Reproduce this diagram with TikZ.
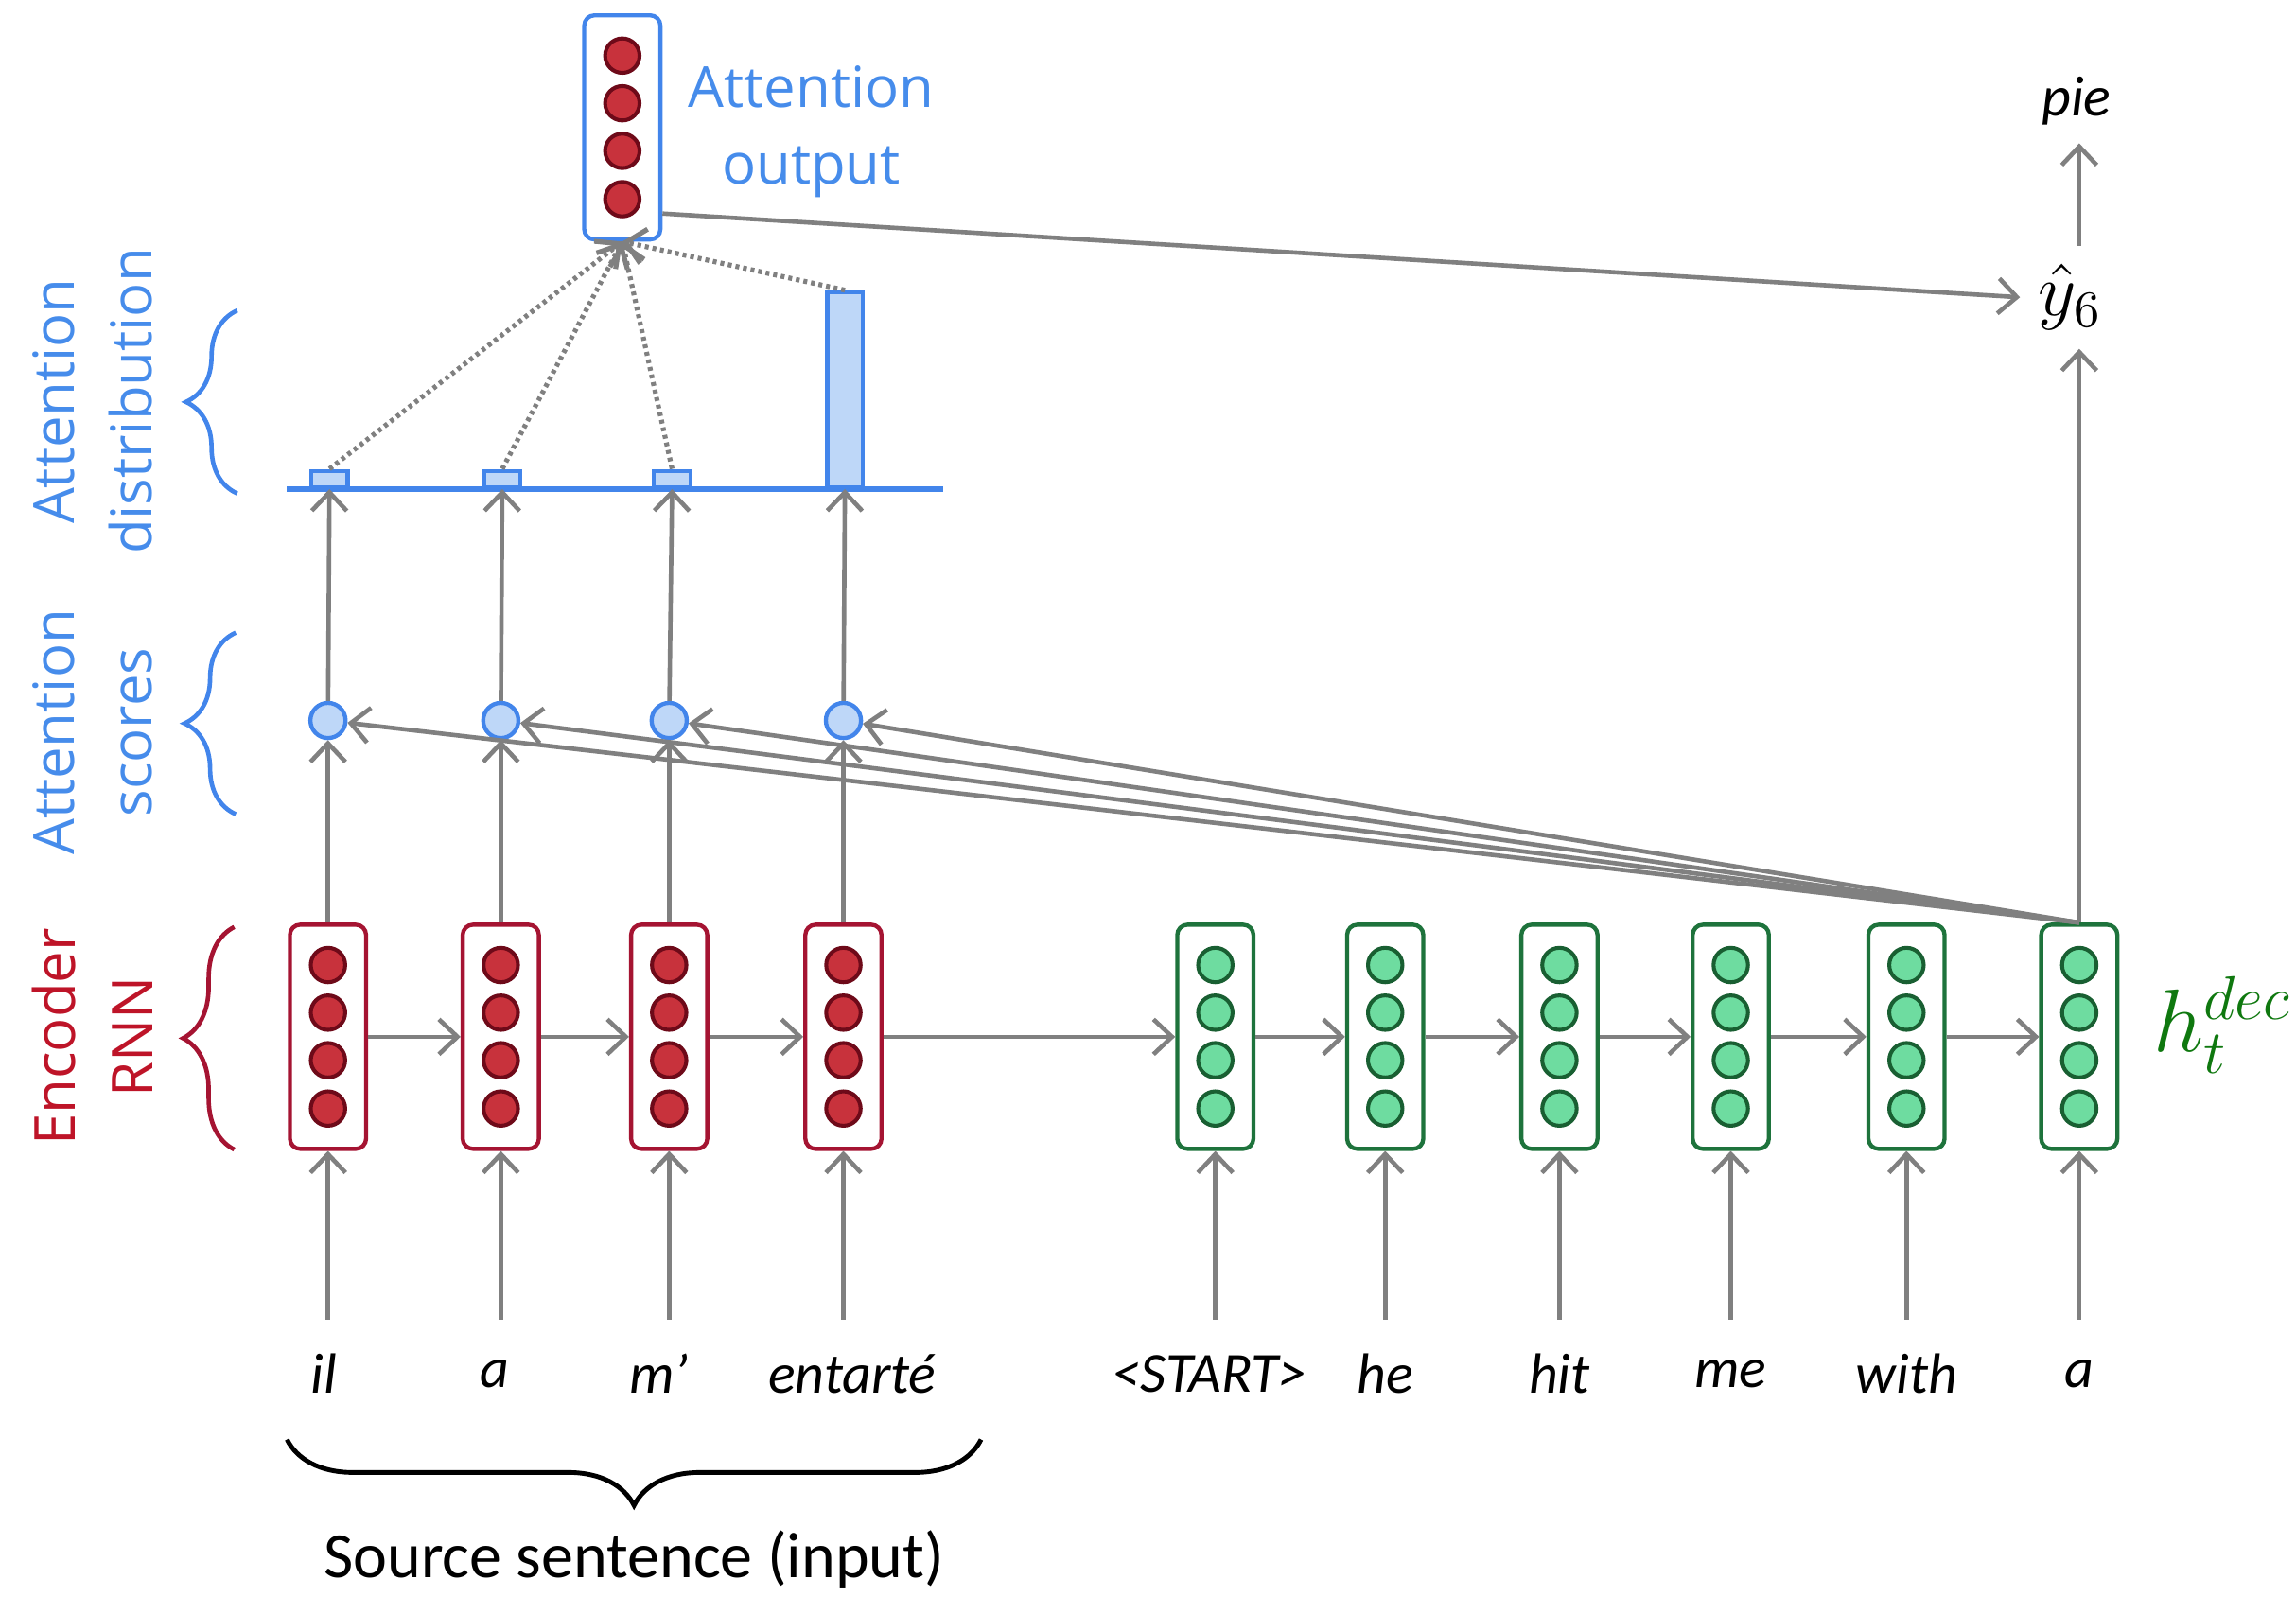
\documentclass[tikz,border=0pt]{standalone}
\usepackage{fontspec}
\setmainfont{Carlito}
\newfontfamily\osans{Open Sans}
\usetikzlibrary{arrows.meta,decorations.pathreplacing,calc}
\definecolor{redB}{RGB}{165,20,50}
\definecolor{redF}{RGB}{200,50,60}
\definecolor{redD}{RGB}{110,10,25}
\definecolor{redT}{RGB}{190,20,40}
\definecolor{blueB}{RGB}{66,133,235}
\definecolor{blueF}{RGB}{190,215,248}
\definecolor{blueT}{RGB}{70,140,235}
\definecolor{greenB}{RGB}{30,115,60}
\definecolor{greenF}{RGB}{110,220,160}
\definecolor{greenD}{RGB}{25,95,50}
\definecolor{grayA}{RGB}{128,128,128}
\definecolor{hgreen}{RGB}{15,120,15}
\tikzset{
  arr/.style={draw=grayA, line width=0.85pt, -{Straight Barb[length=3.6pt,width=6.8pt]}},
  dotarr/.style={arr, line width=0.95pt, dash pattern=on 0.75pt off 0.75pt},
  vec/.style={draw, rounded corners=0.07cm, minimum width=0.52cm, minimum height=1.53cm, line width=0.8pt, inner sep=0pt, fill=white},
  encbox/.style={vec, draw=redB},
  decbox/.style={vec, draw=greenB},
  aobox/.style={vec, draw=blueB},
  neuron/.style={circle, inner sep=0pt, minimum size=0.235cm, line width=0.75pt},
  rneu/.style={neuron, draw=redD, fill=redF},
  gneu/.style={neuron, draw=greenD, fill=greenF},
  score/.style={circle, inner sep=0pt, minimum size=0.24cm, draw=blueB, fill=blueF, line width=0.8pt},
  barbox/.style={draw=blueB, fill=blueF, line width=0.8pt, inner sep=0pt, minimum width=0.25cm, anchor=south},
  word/.style={font=\fontsize{11}{13}\selectfont\itshape, inner sep=1pt},
  sidelab/.style={font=\osans\fontsize{11}{15}\selectfont, align=center, rotate=90},
  lbrace/.style={decorate, decoration={brace, amplitude=0.35cm}, line width=0.85pt},
}
\begin{document}
\begin{tikzpicture}[x=0.01cm,y=-0.01cm]
\useasboundingbox (0,0) rectangle (1568,1090);

% encoder
\foreach \i/\x in {1/224,2/342,3/457,4/576}{
  \node[encbox] (e\i) at (\x,708) {};
  \foreach \j/\dy in {1/-49,2/-16.5,3/16,4/49}
    \node[rneu] (e\i n\j) at (\x,{708+\dy}) {};
}
% decoder
\foreach \i/\x in {1/830,2/946,3/1065,4/1182,5/1302,6/1420}{
  \node[decbox] (d\i) at (\x,708) {};
  \foreach \j/\dy in {1/-49,2/-16.5,3/16,4/49}
    \node[gneu] (d\i n\j) at (\x,{708+\dy}) {};
}
% attention output
\node[aobox] (ao) at (425,87) {};
\foreach \j/\dy in {1/-49,2/-16.5,3/16,4/49}
  \node[rneu] (ao n\j) at (425,{87+\dy}) {};

% score circles
\foreach \i/\x in {1/224,2/342,3/457,4/576}
  \node[score] (s\i) at (\x,492) {};

% distribution
\draw[blueB, line width=1.1pt] (196,334) -- (644,334);
\node[barbox, minimum height=0.11cm] (bar1) at (225,334) {};
\node[barbox, minimum height=0.11cm] (bar2) at (343,334) {};
\node[barbox, minimum height=0.11cm] (bar3) at (459,334) {};
\node[barbox, minimum height=1.33cm, minimum width=0.24cm] (bar4) at (577,334) {};

% words
\node[word] (w1) at (221,938) {il};
\node[word] (w2) at (338,938) {a};
\node[word] (w3) at (450,938) {m’};
\node[word] (w4) at (582,938) {entarté};
\node[word] (w5) at (826,938) {<START>};
\node[word] (w6) at (946,938) {he};
\node[word] (w7) at (1065,938) {hit};
\node[word] (w8) at (1182,938) {me};
\node[word] (w9) at (1302,938) {with};
\node[word] (w10) at (1420,938) {a};

\foreach \i/\x in {1/224,2/342,3/457,4/576}{
  \coordinate (ie\i) at (\x,901);
  \draw[arr] (ie\i) -- (e\i);
  \draw[arr] (e\i) -- (s\i);
  \draw[arr] (s\i) -- (bar\i.south);
  \draw[dotarr] (bar\i.north) -- (ao.south);
}
\foreach \i/\x in {1/830,2/946,3/1065,4/1182,5/1302,6/1420}{
  \coordinate (id\i) at (\x,901);
  \draw[arr] (id\i) -- (d\i);
}
\draw[arr] (e1) -- (e2);
\draw[arr] (e2) -- (e3);
\draw[arr] (e3) -- (e4);
\draw[arr] (e4) -- (d1);
\draw[arr] (d1) -- (d2);
\draw[arr] (d2) -- (d3);
\draw[arr] (d3) -- (d4);
\draw[arr] (d4) -- (d5);
\draw[arr] (d5) -- (d6);

% output side
\node[inner sep=0.12cm, font=\fontsize{14}{16}\selectfont] (yhat) at (1414,203) {$\hat{y}_6$};
\node[font=\fontsize{11}{13}\selectfont\itshape] (pie) at (1418,69) {pie};
\draw[arr] (d6.north) -- (d6.north |- yhat.south);
\draw[arr] (d6.north |- yhat.north) -- (d6.north |- pie.south);
\draw[arr] (ao.-65) -- (yhat.west);
\foreach \i in {1,2,3,4}
  \draw[arr] (d6.north) -- (s\i);

% labels
\node[font=\osans\fontsize{11}{15}\selectfont, text=blueT, align=center] (aotext) at (554,90) {Attention\\output};
\node[sidelab, text=blueT] (ldist) at (63,274) {Attention\\distribution};
\node[sidelab, text=blueT] (lscore) at (63,500) {Attention\\scores};
\node[sidelab, text=redT] (lenc) at (63,708) {Encoder\\RNN};
\node[text=hgreen, font=\fontsize{17.5}{20}\selectfont, inner sep=0pt] (hdec) at (1518,700) {$h_t^{dec}$};

% braces
\draw[lbrace, blueB] (162,337) -- (162,212);
\draw[lbrace, blueB] (161,556) -- (161,432);
\draw[lbrace, redB] (160,785) -- (160,633);
\draw[decorate, decoration={brace, amplitude=0.45cm}, line width=0.9pt] (670,983) -- (196,983);
\node[font=\fontsize{12.5}{15}\selectfont] (src) at (433,1065) {Source sentence (input)};
\end{tikzpicture}
\end{document}
